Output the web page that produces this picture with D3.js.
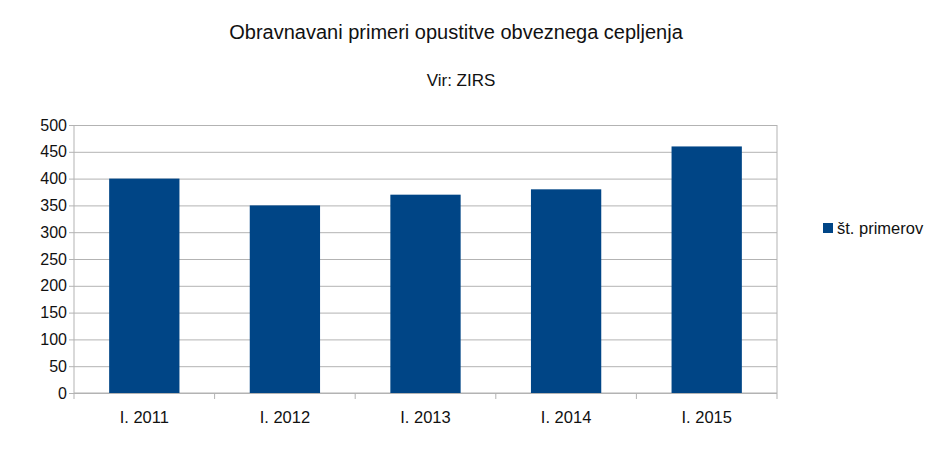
<!DOCTYPE html>
<html>
<head>
<meta charset="utf-8">
<script src="https://cdn.jsdelivr.net/npm/d3@7/dist/d3.min.js"></script>
<style>
  body { margin: 0; background: #fff; }
  text { font-family: "Liberation Sans", Arial, sans-serif; fill: #111; }
</style>
</head>
<body>
<div id="chart"></div>
<script>
const categories = ["I. 2011", "I. 2012", "I. 2013", "I. 2014", "I. 2015"];
const values = [400, 350, 370, 380, 460];
const yTicks = [0, 50, 100, 150, 200, 250, 300, 350, 400, 450, 500];
const seriesName = "št. primerov";
const title = "Obravnavani primeri opustitve obveznega cepljenja";
const subtitle = "Vir: ZIRS";

const width = 940, height = 460;
const margin = { top: 125, right: 163, bottom: 67, left: 74 };
const innerW = width - margin.left - margin.right;
const innerH = height - margin.top - margin.bottom;
const barColor = "#004586";
const gridColor = "#b3b3b3";

const svg = d3.select("#chart")
  .append("svg")
  .attr("width", width)
  .attr("height", height);

svg.append("text")
  .attr("x", 456).attr("y", 39)
  .attr("text-anchor", "middle")
  .style("font-size", "20px")
  .text(title);

svg.append("text")
  .attr("x", 461).attr("y", 86)
  .attr("text-anchor", "middle")
  .style("font-size", "17px")
  .text(subtitle);

const g = svg.append("g")
  .attr("transform", `translate(${margin.left},${margin.top})`);

const x = d3.scaleBand()
  .domain(categories)
  .range([0, innerW])
  .paddingInner(0.5)
  .paddingOuter(0.25);

const y = d3.scaleLinear()
  .domain([0, 500])
  .range([innerH, 0]);

// gridlines + y ticks
g.append("g")
  .call(d3.axisLeft(y).tickValues(yTicks).tickSize(-innerW).tickSizeOuter(0).tickPadding(7))
  .call(a => a.select(".domain").remove())
  .call(a => a.selectAll(".tick line").attr("stroke", gridColor).attr("x1", -5))
  .call(a => a.selectAll(".tick text").style("font-size", "16px").attr("fill", "#111"));

// frame: left and right
g.append("line").attr("x1", 0).attr("x2", 0).attr("y1", 0).attr("y2", innerH).attr("stroke", gridColor);
g.append("line").attr("x1", innerW).attr("x2", innerW).attr("y1", 0).attr("y2", innerH).attr("stroke", gridColor);

// x axis with ticks at category boundaries
const boundaries = d3.range(categories.length + 1).map(i => i * innerW / categories.length);
const xa = g.append("g").attr("transform", `translate(0,${innerH})`);
xa.append("line").attr("x1", 0).attr("x2", innerW).attr("stroke", gridColor);
xa.selectAll(".bt")
  .data(boundaries)
  .enter().append("line")
  .attr("x1", d => d).attr("x2", d => d)
  .attr("y1", 0).attr("y2", 6)
  .attr("stroke", gridColor);
xa.selectAll(".xl")
  .data(categories)
  .enter().append("text")
  .attr("x", d => x(d) + x.bandwidth() / 2)
  .attr("y", 30)
  .attr("text-anchor", "middle")
  .style("font-size", "16.5px")
  .text(d => d);

g.selectAll(".bar")
  .data(values)
  .enter().append("rect")
  .attr("x", (d, i) => x(categories[i]))
  .attr("y", d => y(d))
  .attr("width", x.bandwidth())
  .attr("height", d => innerH - y(d))
  .attr("fill", barColor);

// legend
const lg = svg.append("g").attr("transform", "translate(823,223)");
lg.append("rect").attr("width", 10).attr("height", 10).attr("fill", barColor);
lg.append("text").attr("x", 14).attr("y", 11).style("font-size", "16.5px").text(seriesName);
</script>
</body>
</html>
